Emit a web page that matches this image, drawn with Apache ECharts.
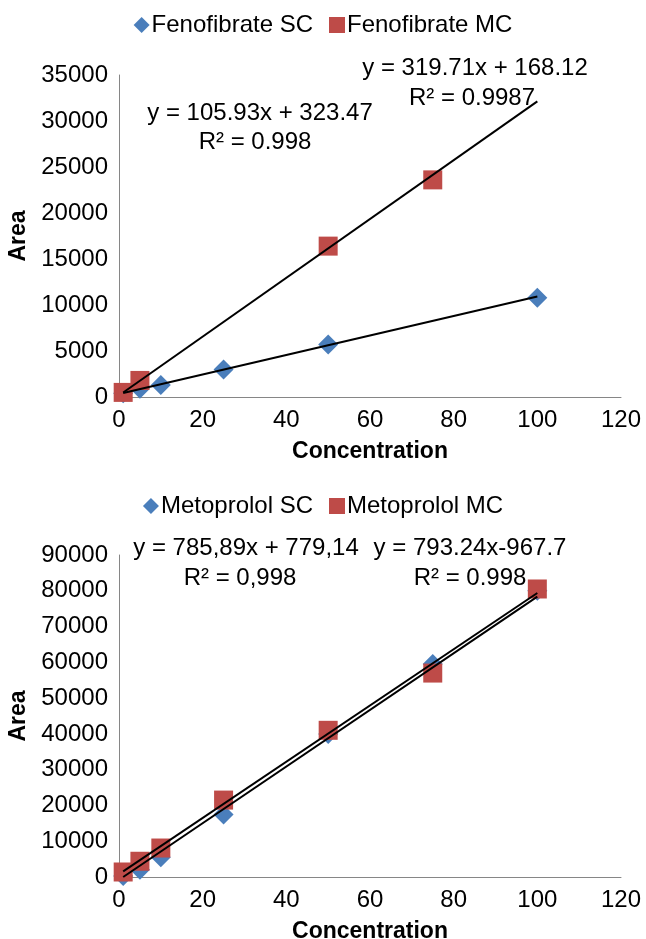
<html>
<head>
<meta charset="UTF-8">
<title>Calibration</title>
<script src="https://cdn.jsdelivr.net/npm/echarts@6/dist/echarts.min.js"></script>
<style>
  html, body { margin: 0; padding: 0; background: #fff; }
  #main { width: 646px; height: 939px; }
</style>
</head>
<body>
<div id="main"></div>
<script>
// x ticks shared by both panels
var xTicks = [0, 20, 40, 60, 80, 100, 120];

// Fenofibrate (top panel)
var fenoSC = [[1, 400], [5, 900], [10, 1300], [25, 3000], [50, 5700], [100, 10800]];
var fenoMC = [[1, 500], [5, 1800], [50, 16400], [75, 23600]];
var fenoSCTrend = [[1, 430], [100, 10920]];
var fenoMCTrend = [[1, 490], [100, 32140]];

// Metoprolol (bottom panel)
var metoSC = [[1, 300], [5, 2000], [10, 5500], [25, 17500], [50, 40000], [75, 59500], [100, 80000]];
var metoMC = [[1, 1400], [5, 4400], [10, 8100], [25, 21500], [50, 41000], [75, 57000], [100, 80500]];
var metoSCTrend = [[1, 1560], [100, 79370]];
var metoMCTrend = [[1, 0], [100, 78360]];

var blue = '#4a7ebb';
var red = '#be4b48';
var font = 'Liberation Sans';

var myChart = echarts.init(document.getElementById('main'), null, {renderer: 'canvas'});

function xAxisOf(idx) {
    return {
        type: 'value', gridIndex: idx, min: xTicks[0], max: xTicks[xTicks.length - 1], interval: 20,
        name: 'Concentration', nameLocation: 'middle', nameGap: 43,
        nameTextStyle: {fontFamily: font, fontWeight: 'bold', fontSize: 23, color: '#000'},
        axisLine: {lineStyle: {color: '#868686', width: 1}},
        axisTick: {show: false},
        splitLine: {show: false},
        axisLabel: {fontFamily: font, fontSize: 24, color: '#000', margin: 11}
    };
}
function yAxisOf(idx, max, step) {
    return {
        type: 'value', gridIndex: idx, min: 0, max: max, interval: step,
        name: 'Area', nameLocation: 'middle', nameGap: 86, nameRotate: 90,
        nameTextStyle: {fontFamily: font, fontWeight: 'bold', fontSize: 23, color: '#000'},
        axisLine: {show: true, lineStyle: {color: '#868686', width: 1}},
        axisTick: {show: false},
        splitLine: {show: false},
        axisLabel: {fontFamily: font, fontSize: 24, color: '#000', margin: 11,
            formatter: function (v) { return String(v); }}
    };
}
function pts(name, data, idx, symbol, color, size) {
    return {
        name: name, type: 'scatter', xAxisIndex: idx, yAxisIndex: idx, data: data,
        symbol: symbol, symbolSize: size, itemStyle: {color: color, opacity: 1}, z: 2
    };
}
function trend(data, idx) {
    return {
        type: 'line', xAxisIndex: idx, yAxisIndex: idx, data: data, symbol: 'none',
        lineStyle: {color: '#000', width: 2}, z: 3, silent: true
    };
}
function label(text, x, y) {
    return {
        type: 'text', x: x, y: y, z: 10,
        style: {text: text, fontFamily: font, fontSize: 24, fill: '#000',
            textAlign: 'center', textVerticalAlign: 'middle'}
    };
}

option = {
    animation: false,
    legend: [
        {
            top: 8, left: 'center', itemGap: 16, itemWidth: 16, itemHeight: 16,
            textStyle: {fontFamily: font, fontSize: 24, color: '#000', padding: [0, 0, 0, -3]},
            data: [{name: 'Fenofibrate SC', icon: 'diamond'}, {name: 'Fenofibrate MC', icon: 'rect'}]
        },
        {
            top: 489, left: 'center', itemGap: 16, itemWidth: 16, itemHeight: 16,
            textStyle: {fontFamily: font, fontSize: 24, color: '#000', padding: [0, 0, 0, -3]},
            data: [{name: 'Metoprolol SC', icon: 'diamond'}, {name: 'Metoprolol MC', icon: 'rect'}]
        }
    ],
    grid: [
        {left: 119, right: 25, top: 75, height: 322, outerBoundsMode: 'none'},
        {left: 119, right: 25, top: 555, height: 322, outerBoundsMode: 'none'}
    ],
    xAxis: [xAxisOf(0), xAxisOf(1)],
    yAxis: [yAxisOf(0, 35000, 5000), yAxisOf(1, 90000, 10000)],
    series: [
        pts('Fenofibrate SC', fenoSC, 0, 'diamond', blue, 20),
        pts('Fenofibrate MC', fenoMC, 0, 'rect', red, 19),
        trend(fenoSCTrend, 0),
        trend(fenoMCTrend, 0),
        pts('Metoprolol SC', metoSC, 1, 'diamond', blue, 20),
        pts('Metoprolol MC', metoMC, 1, 'rect', red, 19),
        trend(metoSCTrend, 1),
        trend(metoMCTrend, 1)
    ],
    graphic: [
        label('y = 319.71x + 168.12', 475, 68),
        label('R\u00b2 = 0.9987', 472, 98),
        label('y = 105.93x + 323.47', 260, 113),
        label('R\u00b2 = 0.998', 255, 142),
        label('y = 785,89x + 779,14', 246, 548),
        label('R\u00b2 = 0,998', 240, 578),
        label('y = 793.24x-967.7', 470, 548),
        label('R\u00b2 = 0.998', 470, 578)
    ]
};

myChart.setOption(option);
</script>
</body>
</html>
